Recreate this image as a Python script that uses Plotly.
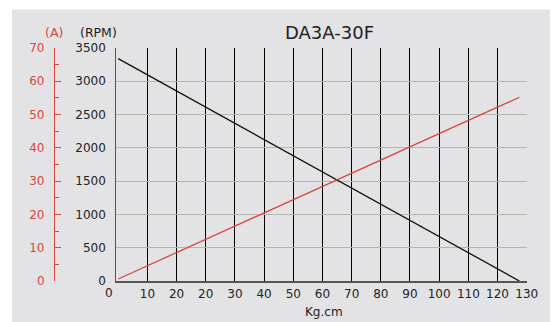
import plotly.graph_objects as go

# ---- data (x in chart grid units: each vertical line = 10) ----
torque = [0, 137.5]
rpm = [3340, 0]
current = [0.6, 55.2]

x_tick_pos = [10, 20, 30, 40, 50, 60, 70, 80, 90, 100, 110, 120, 130, 140]
x_tick_text = ["10", "20", "20", "30", "40", "50", "60", "70", "80", "90", "100", "110", "120", "130"]
x_grid_pos = [10, 20, 30, 40, 50, 60, 70, 80, 90, 100, 110, 120, 130]
rpm_ticks = [0, 500, 1000, 1500, 2000, 2500, 3000, 3500]
rpm_grid = [500, 1000, 1500, 2000, 2500, 3000]
amp_ticks = [0, 10, 20, 30, 40, 50, 60, 70]
amp_minor = [5, 15, 25, 35, 45, 55, 65]

title = "DA3A-30F"
RED = "#d9473c"
INK = "#222222"
FONT = "DejaVu Sans"

# page body has an 8px margin; figure is sized to fill the rest of the window
OFF = 8
W, H = 558 - OFF, 322 - OFF
# plot area in window pixels: x 116.3..526.7, y 48.3..280.7
ML = 0
MR = 558 - 526.7
MT = 48.3 - OFF
MB = 322 - 280.7
PW = W - ML - MR
PH = H - MT - MB


def px(x):
    """window pixel x -> paper coordinate"""
    return (x - OFF - ML) / PW


def py(y):
    """window pixel y -> paper coordinate"""
    return (322 - MB - y) / PH


fig = go.Figure()
fig.add_trace(go.Scatter(x=torque, y=rpm, mode="lines",
                         line=dict(color="#111111", width=1.3),
                         hoverinfo="skip", showlegend=False))
fig.add_trace(go.Scatter(x=torque, y=current, mode="lines", yaxis="y2",
                         line=dict(color=RED, width=1.3),
                         hoverinfo="skip", showlegend=False))

fig.update_layout(
    width=W, height=H,
    margin=dict(l=ML, r=MR, t=MT, b=MB, pad=0, autoexpand=False),
    paper_bgcolor="white",
    plot_bgcolor="white",
    font=dict(family=FONT, size=12, color=INK),
    xaxis=dict(
        domain=[px(116.3), 1],
        range=[-0.63, 140.1],
        tickmode="array", tickvals=x_tick_pos, ticktext=x_tick_text,
        showgrid=False, zeroline=False,
        showline=True, linecolor="#555555", linewidth=1.5,
        ticks="", ticklabelstandoff=1,
        tickfont=dict(family=FONT, size=12, color=INK),
        minor=dict(tickmode="array", tickvals=x_grid_pos, showgrid=True,
                   gridcolor="#000000", gridwidth=1.3, ticks=""),
    ),
    yaxis=dict(
        range=[0, 3500],
        tickmode="array", tickvals=rpm_ticks,
        showgrid=False, zeroline=False,
        showline=True, linecolor="#555555", linewidth=1.3,
        ticks="", ticklabelstandoff=7,
        tickfont=dict(family=FONT, size=12, color=INK),
        minor=dict(tickmode="array", tickvals=rpm_grid, showgrid=True,
                   gridcolor="#b5b5b5", gridwidth=1, ticks=""),
    ),
    yaxis2=dict(
        range=[0, 70], overlaying="y", anchor="free", position=px(54),
        side="left",
        tickmode="array", tickvals=amp_ticks,
        showgrid=False, zeroline=False,
        showline=True, linecolor=RED, linewidth=1.2,
        ticks="inside", ticklen=6, tickwidth=1.2, tickcolor=RED,
        ticklabelstandoff=7,
        tickfont=dict(family=FONT, size=12, color=RED),
        minor=dict(tickmode="array", tickvals=amp_minor, ticks="inside",
                   ticklen=3.5, tickwidth=1.2, tickcolor=RED, showgrid=False),
    ),
    shapes=[dict(type="rect", xref="paper", yref="paper",
                 x0=px(12), x1=px(600), y0=py(10), y1=py(400),
                 fillcolor="#e3e3e5", line=dict(width=0), layer="below")],
    annotations=[
        dict(text=title, xref="paper", yref="paper", x=px(329), y=py(32.5),
             xanchor="center", yanchor="middle", showarrow=False,
             font=dict(family=FONT, size=18, color=INK)),
        dict(text="(A)", xref="paper", yref="paper", x=px(54), y=py(33),
             xanchor="center", yanchor="middle", showarrow=False,
             font=dict(family=FONT, size=12.5, color=RED)),
        dict(text="(RPM)", xref="paper", yref="paper", x=px(98), y=py(33),
             xanchor="center", yanchor="middle", showarrow=False,
             font=dict(family=FONT, size=12.5, color=INK)),
        dict(text="Kg.cm", xref="paper", yref="paper", x=px(324), y=py(311.5),
             xanchor="center", yanchor="middle", showarrow=False,
             font=dict(family=FONT, size=12, color=INK)),
        dict(text="0", xref="paper", yref="paper", x=px(109.3), y=py(292.7),
             xanchor="center", yanchor="middle", showarrow=False,
             font=dict(family=FONT, size=12, color=INK)),
    ],
)

fig.write_html("out.html")
